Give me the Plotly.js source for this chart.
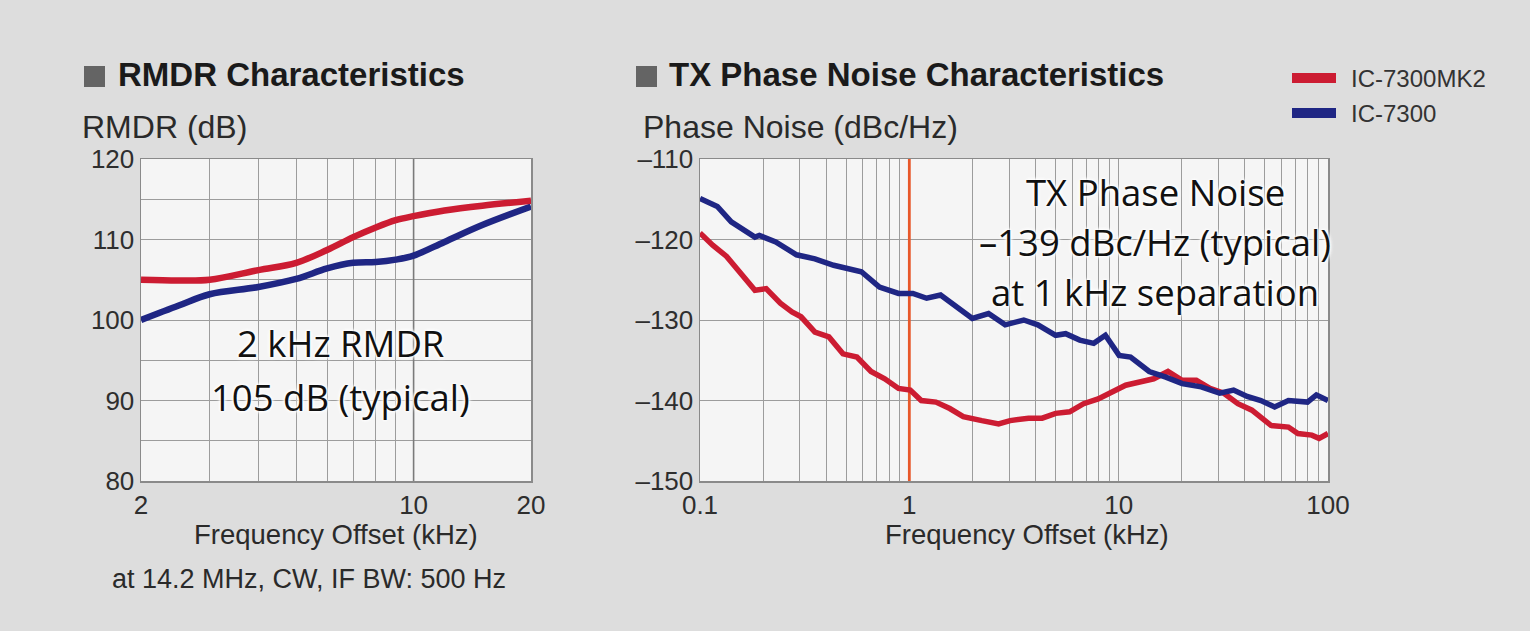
<!DOCTYPE html>
<html>
<head>
<meta charset="utf-8">
<script src="https://cdn.plot.ly/plotly-3.0.1.min.js"></script>
<style>
  html, body { margin: 0; padding: 0; background: #dcdcdc; }
  #chart { width: 1530px; height: 631px; }
</style>
</head>
<body>
<div id="chart"></div>
<script>
/* ── RMDR + TX phase noise (IC-7300 vs IC-7300MK2) ── */

const W = 1530, H = 631;

// RMDR chart, offset in kHz
const RMDR_FREQ = [2, 2.5, 3, 4, 5, 6, 7, 8, 9, 10, 12, 15, 20];
const RMDR_MK2 = [105.0, 104.9, 105.0, 106.2, 107.1, 108.7, 110.3, 111.5, 112.4, 112.9, 113.6, 114.2, 114.8];
const RMDR_7300 = [100.0, 101.8, 103.2, 104.1, 105.1, 106.4, 107.1, 107.2, 107.5, 108.0, 109.7, 111.8, 114.1];

// TX phase noise, offset in kHz
const PN_FREQ_7300 = [0.1, 0.121, 0.141, 0.183, 0.192, 0.23, 0.289, 0.354, 0.435, 0.533, 0.59, 0.72, 0.888,
    1.04, 1.21, 1.41, 1.64, 2.0, 2.39, 2.87, 3.52, 4.11, 5.0, 5.58, 6.52, 7.6, 8.64, 10.05, 11.4, 14.0,
    16.8, 20.1, 24.8, 30.4, 35.4, 41.1, 47.8, 55.6, 64.7, 79.8, 88, 100];
const PN_7300 = [-114.9, -115.9, -117.8, -119.7, -119.5, -120.3, -121.9, -122.4, -123.2, -123.8, -124.0, -125.9, -126.7,
    -126.7, -127.3, -126.9, -128.2, -129.8, -129.2, -130.6, -130.0, -130.6, -131.9, -131.7, -132.5, -132.9, -131.9, -134.4, -134.6, -136.4,
    -137.1, -137.9, -138.3, -139.1, -138.7, -139.5, -140.0, -140.8, -140.0, -140.2, -139.3, -140.0];

const PN_FREQ_MK2 = [0.1, 0.115, 0.134, 0.157, 0.183, 0.207, 0.242, 0.275, 0.304, 0.354, 0.413, 0.482, 0.562, 0.656,
    0.763, 0.888, 1.01, 1.14, 1.34, 1.56, 1.81, 2.22, 2.67, 3.03, 3.71, 4.31, 5.0, 5.83, 6.8, 7.98, 9.26,
    10.8, 12.6, 14.7, 17.2, 20.1, 23.5, 27.3, 31.8, 37.1, 43.3, 53.4, 64.7, 71.8, 83.7, 90.6, 100];
const PN_MK2 = [-119.2, -120.7, -122.1, -124.2, -126.3, -126.1, -127.9, -129.0, -129.6, -131.5, -132.1, -134.2, -134.6, -136.4,
    -137.3, -138.5, -138.7, -140.0, -140.2, -141.0, -142.0, -142.5, -142.9, -142.5, -142.2, -142.2, -141.6, -141.4, -140.4, -139.8, -138.9,
    -138.1, -137.7, -137.3, -136.4, -137.5, -137.5, -138.5, -139.1, -140.4, -141.2, -143.1, -143.3, -144.1, -144.3, -144.7, -144.1];

const SERIES = ['IC-7300MK2', 'IC-7300'];
const COLORS = { 'IC-7300MK2': '#cc1c32', 'IC-7300': '#1f2684' };

const RMDR_TICKS = [80, 85, 90, 95, 100, 105, 110, 115, 120];
const PN_TICKS = [-150, -140, -130, -120, -110];

// pixel -> paper helpers
const px = x => x / W;
const py = y => 1 - y / H;

const SANS = 'Liberation Sans, Arial, sans-serif';
const TXT = '#2a2a2a';
const TICK_FONT = { family: SANS, size: 26, color: '#2e2e2e' };
const GRID = '#9c9c9c';

// log grid: every digit inside each decade
function logGrid(lo, hi) {
    const vals = [];
    for (let d = lo; d < hi; d *= 10) {
        for (let k = 1; k < 10; k++) vals.push(+(d * k).toPrecision(3));
    }
    vals.push(hi);
    return vals;
}

const rmdrX = logGrid(1, 20).filter(v => v >= 2);
const pnX = logGrid(0.1, 100);

const traces = [
    // darker 10 kHz line on RMDR grid
    { x: [10, 10], y: [80, 120], mode: 'lines', line: { color: '#7a7a7a', width: 1.6 },
      hoverinfo: 'skip', showlegend: false, xaxis: 'x', yaxis: 'y' },
    { x: RMDR_FREQ, y: RMDR_7300, mode: 'lines', line: { color: COLORS['IC-7300'], width: 6.5, shape: 'spline' },
      name: 'IC-7300', showlegend: false, xaxis: 'x', yaxis: 'y' },
    { x: RMDR_FREQ, y: RMDR_MK2, mode: 'lines', line: { color: COLORS['IC-7300MK2'], width: 6.5, shape: 'spline' },
      name: 'IC-7300MK2', showlegend: false, xaxis: 'x', yaxis: 'y' },
    // 1 kHz marker
    { x: [1, 1], y: [-150, -110], mode: 'lines', line: { color: '#e8582a', width: 2.8 },
      hoverinfo: 'skip', showlegend: false, xaxis: 'x2', yaxis: 'y2' },
    { x: PN_FREQ_MK2, y: PN_MK2, mode: 'lines', line: { color: COLORS['IC-7300MK2'], width: 5.5 },
      name: 'IC-7300MK2', showlegend: false, xaxis: 'x2', yaxis: 'y2' },
    { x: PN_FREQ_7300, y: PN_7300, mode: 'lines', line: { color: COLORS['IC-7300'], width: 5.5 },
      name: 'IC-7300', showlegend: false, xaxis: 'x2', yaxis: 'y2' },
];

const axisCommon = {
    showline: true, mirror: true, linecolor: '#8a8a8a', linewidth: 1.5,
    gridcolor: GRID, gridwidth: 1, zeroline: false, ticks: '',
    tickfont: TICK_FONT, fixedrange: true,
};

const halo = '0 0 3px #fff, 0 0 3px #fff, 0 0 4px #fff, 0 0 5px #fff';
const bigFont = { family: 'Open Sans, Noto Sans, sans-serif', size: 36.5, color: '#111', shadow: halo };

function note(x, y, text, font, xanchor) {
    return { xref: 'paper', yref: 'paper', x: px(x), y: py(y), text, showarrow: false,
             xanchor: xanchor || 'center', yanchor: 'middle', font };
}

const titleFont = { family: SANS, size: 33, color: '#1a1a1a' };
const labelFont = { family: SANS, size: 27.5, color: TXT };

const annotations = [
    note(116, 75, '<b>RMDR Characteristics</b>', titleFont, 'left'),
    note(667, 75, '<b>TX Phase Noise Characteristics</b>', titleFont, 'left'),
    note(80, 127, 'RMDR (dB)', { ...labelFont, size: 32 }, 'left'),
    note(641, 127, 'Phase Noise (dBc/Hz)', { ...labelFont, size: 32 }, 'left'),
    note(336, 534, 'Frequency Offset (kHz)', labelFont),
    note(1027, 534, 'Frequency Offset (kHz)', labelFont),
    note(309, 579, 'at 14.2 MHz, CW, IF BW: 500 Hz', { ...labelFont, size: 27 }),
    note(340, 343, '2 kHz RMDR', bigFont),
    note(340, 397, '105 dB (typical)', bigFont),
    note(1155, 192, 'TX Phase Noise', bigFont),
    note(1155, 242, '–139 dBc/Hz (typical)', bigFont),
    note(1155, 292, 'at 1 kHz separation', bigFont),
];

// title bullets
const shapes = [
    { type: 'rect', xref: 'paper', yref: 'paper', x0: px(84), x1: px(105), y0: py(87), y1: py(66),
      fillcolor: '#646464', line: { width: 0 } },
    { type: 'rect', xref: 'paper', yref: 'paper', x0: px(636), x1: px(657), y0: py(87), y1: py(66),
      fillcolor: '#646464', line: { width: 0 } },
];

// legend drawn as swatches + labels
SERIES.forEach((s, i) => {
    const yc = 78 + i * 35;
    shapes.push({ type: 'rect', xref: 'paper', yref: 'paper', x0: px(1292), x1: px(1336),
                  y0: py(yc - 5), y1: py(yc + 5), fillcolor: COLORS[s], line: { width: 0 } });
    annotations.push(note(1349, yc, s, { family: SANS, size: 24, color: '#333' }, 'left'));
});

const layout = {
    width: W, height: H,
    margin: { l: 0, r: 0, t: 0, b: 0 },
    paper_bgcolor: '#dddddd',
    plot_bgcolor: '#f5f5f5',
    showlegend: false,
    xaxis: { ...axisCommon, type: 'log', domain: [px(141), px(531)], anchor: 'y',
             range: [Math.log10(2), Math.log10(20)],
             tickvals: rmdrX, ticktext: rmdrX.map(v => [2, 10, 20].includes(v) ? String(v) : '') },
    yaxis: { ...axisCommon, domain: [py(481), py(159)], anchor: 'x', range: [80, 120],
             tickvals: RMDR_TICKS, ticktext: RMDR_TICKS.map(v => v % 10 === 0 ? String(v) : '') },
    xaxis2: { ...axisCommon, type: 'log', domain: [px(700), px(1328)], anchor: 'y2',
              range: [-1, 2],
              tickvals: pnX, ticktext: pnX.map(v => [0.1, 1, 10, 100].includes(v) ? String(v) : '') },
    yaxis2: { ...axisCommon, domain: [py(481), py(159)], anchor: 'x2', range: [-150, -110],
              tickvals: PN_TICKS, ticktext: PN_TICKS.map(v => '–' + Math.abs(v)) },
    annotations,
    shapes,
};

Plotly.newPlot('chart', traces, layout, { displayModeBar: false, staticPlot: true });
</script>
</body>
</html>
